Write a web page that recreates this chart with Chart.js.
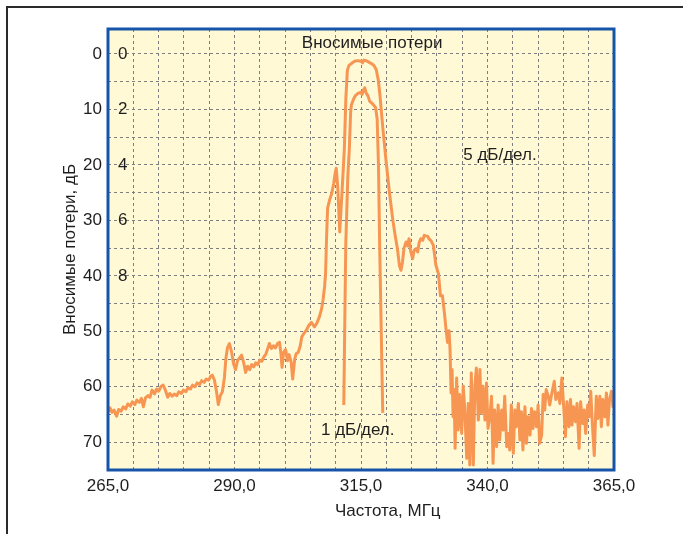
<!DOCTYPE html>
<html>
<head>
<meta charset="utf-8">
<script src="https://cdn.jsdelivr.net/npm/chart.js@4"></script>
<style>
  html, body { margin: 0; padding: 0; background: #fff; }
  #frame {
    position: absolute; left: 6px; top: 6px;
    width: 677px; height: 528px;
    border-top: 2px solid #2b2b2b; border-left: 2px solid #2b2b2b;
  }
  #c { display: block; }
</style>
</head>
<body>
<div id="frame"><canvas id="c" width="675" height="526"></canvas></div>
<script>
// 5 dB/div trace: frequency (MHz) and insertion loss (dB)
const wideFreq = [
  265.0, 265.4, 265.8, 266.2, 266.7, 267.1, 267.6, 268.0, 268.5, 268.9,
  269.4, 269.8, 270.3, 270.7, 271.2, 271.6, 272.0, 272.4, 272.9, 273.3,
  273.7, 274.2, 274.6, 275.0, 275.5, 275.9, 276.3, 276.8, 277.2, 277.7,
  278.1, 278.6, 279.0, 279.5, 279.9, 280.4, 280.8, 281.3, 281.7, 282.2,
  282.6, 283.1, 283.5, 284.0, 284.4, 284.9, 285.3, 285.6, 286.0, 286.4,
  286.8, 287.2, 287.6, 288.0, 288.3, 288.6, 289.0, 289.4, 289.8, 290.2,
  290.6, 291.0, 291.4, 291.8, 292.2, 292.6, 293.0, 293.4, 293.8, 294.2,
  294.6, 295.0, 295.4, 295.8, 296.2, 296.5, 296.9, 297.3, 297.7, 298.1,
  298.5, 298.9, 299.2, 299.4, 299.7, 300.1, 300.5, 300.8, 301.2, 301.5,
  301.9, 302.2, 302.6, 303.0, 303.3, 303.7, 304.2, 304.7, 305.2, 305.8,
  306.3, 306.8, 307.2, 307.5, 307.8, 308.0, 308.2, 308.4, 308.8, 309.2,
  309.6, 309.9, 310.1, 310.4, 310.8, 311.3, 311.7, 312.0, 312.3, 312.6,
  313.0, 313.5, 313.9, 314.4, 314.9, 315.1, 315.3, 315.6, 316.1, 316.7,
  317.2, 317.6, 318.0, 318.4, 318.7, 319.35, 320.0, 320.65, 321.3, 321.8,
  322.2, 322.6, 322.9, 323.2, 323.5, 323.9, 324.2, 324.5, 324.8, 325.2,
  325.5, 325.9, 326.2, 326.5, 326.8, 327.2, 327.5, 327.8, 328.2, 328.5,
  328.8, 329.3, 329.8, 330.3, 330.7, 331.1, 331.5, 331.8, 332.1, 332.4,
  332.6, 332.8, 333.0, 333.2, 333.4, 333.6, 333.9, 334.2, 334.5, 334.9,
  335.2, 335.5, 335.9, 336.2, 336.5, 336.8, 337.2, 337.5, 337.8, 338.2,
  338.5, 338.8, 339.1, 339.5, 339.8, 340.1, 340.5, 340.8, 341.1, 341.4,
  341.8, 342.1, 342.4, 342.8, 343.1, 343.4, 343.8, 344.1, 344.4, 344.7,
  345.1, 345.4, 345.7, 346.1, 346.4, 346.7, 347.0, 347.4, 347.7, 348.0,
  348.4, 348.7, 349.0, 349.3, 349.7, 350.0, 350.3, 350.7, 351.0, 351.3,
  351.6, 352.0, 352.3, 352.6, 353.2, 353.5, 354.0, 354.3, 354.7, 355.1,
  355.4, 355.7, 356.1, 356.4, 356.7, 357.0, 357.4, 357.7, 358.1, 358.4,
  358.8, 359.1, 359.4, 359.8, 360.1, 360.4, 360.7, 361.1, 361.5, 361.8,
  362.2, 362.5, 362.8, 363.2, 363.5, 363.8, 364.1, 364.5, 364.8, 365.0
];
const wideLoss = [
  64.5, 63.8, 64.6, 64.2, 65.3, 64.1, 64.4, 63.6, 64.0, 63.1,
  63.5, 62.7, 63.2, 62.4, 62.8, 62.1, 63.6, 62.0, 61.6, 61.9,
  60.6, 61.3, 60.4, 60.8, 59.9, 59.7, 60.5, 61.9, 61.2, 61.7,
  61.3, 61.6, 60.9, 61.2, 60.6, 60.9, 60.2, 60.4, 59.7, 60.0,
  59.3, 59.6, 58.9, 59.2, 58.6, 58.8, 58.1, 57.9, 58.7, 60.6,
  63.2, 61.6, 60.9, 58.4, 54.9, 53.0, 52.2, 53.6, 55.8, 56.9,
  55.3, 54.8, 54.3, 55.6, 57.4, 56.3, 56.9, 56.0, 56.4, 55.7,
  56.0, 55.2, 55.4, 54.6, 54.1, 53.3, 52.2, 53.1, 52.6, 53.0,
  52.2, 52.0, 54.2, 56.5, 53.8, 53.3, 55.3, 54.2, 55.6, 58.6,
  55.0, 54.0, 53.8, 52.6, 51.0, 50.4, 49.8, 48.9, 48.4, 49.2,
  48.5, 47.3, 46.0, 44.3, 42.0, 39.5, 33.0, 27.8, 26.3, 25.2,
  23.4, 21.5, 20.6, 23.9, 32.1, 24.0, 17.3, 8.2, 3.0, 2.1,
  1.8, 1.45, 1.25, 1.2, 1.3, 1.25, 1.6, 1.1, 1.25, 1.55,
  1.8, 2.15, 2.8, 4.6, 7.0, 13.7, 19.7, 25.2, 30.0, 33.0,
  35.1, 38.2, 39.0, 37.5, 35.0, 33.9, 34.6, 33.3, 35.5, 36.9,
  35.4, 35.1, 35.7, 34.0, 33.3, 33.6, 32.7, 32.8, 32.9, 33.4,
  33.6, 34.5, 38.1, 39.6, 43.6, 43.6, 46.8, 49.6, 52.0, 49.9,
  53.3, 61.1, 56.9, 65.4, 60.5, 71.1, 58.4, 67.8, 61.4, 68.4,
  59.9, 63.9, 72.9, 63.0, 74.1, 57.5, 74.1, 59.9, 56.6, 66.0,
  56.9, 64.8, 59.9, 66.0, 59.3, 67.5, 65.1, 61.7, 73.8, 64.2,
  70.8, 63.3, 69.6, 64.2, 67.8, 61.7, 70.8, 68.4, 71.4, 63.3,
  72.0, 64.2, 67.2, 63.0, 69.6, 64.5, 71.4, 63.6, 70.2, 65.4,
  68.7, 63.9, 67.5, 64.5, 67.2, 63.3, 70.2, 68.7, 61.4, 64.2,
  60.5, 61.7, 63.3, 61.7, 59.0, 62.3, 61.1, 63.0, 58.4, 64.2,
  69.0, 62.7, 67.2, 62.3, 66.9, 63.6, 66.3, 63.0, 71.1, 62.7,
  66.6, 64.2, 68.4, 63.3, 65.4, 60.8, 66.3, 72.4, 61.7, 65.7,
  61.7, 67.2, 62.3, 65.4, 61.1, 66.9, 62.3, 60.8, 63.6, 62.3
];

// 1 dB/div trace (right-hand scale 0..8)
const narrowFreq = [
  311.6, 311.8, 312.0, 312.4, 312.7, 312.95, 313.1, 313.5, 313.9, 314.4,
  315.0, 315.2, 315.5, 315.75, 316.0, 316.4, 316.7, 317.4, 317.9, 318.2,
  318.45, 318.7, 319.0, 319.3
];
const narrowLoss = [
  12.66, 9.6, 6.8, 4.4, 3.4, 2.1, 1.84, 1.64, 1.5, 1.42,
  1.38, 1.46, 1.3, 1.22, 1.4, 1.52, 1.7, 1.82, 1.94, 2.36,
  4.0, 7.0, 10.0, 12.94
];

const xTitle = 'Частота, МГц';
const yTitle = 'Вносимые потери, дБ';
const notes = [
  { text: 'Вносимые потери', x: 317.2, y: -1.9, align: 'center' },
  { text: '5 дБ/дел.', x: 335.2, y: 18.2, align: 'left' },
  { text: '1 дБ/дел.', x: 307.1, y: 67.8, align: 'left' }
];

const FONT = { family: '"Liberation Sans", Arial, sans-serif', size: 17 };
const TEXT = '#1e1e1e';
const LINE = 'rgb(247, 150, 82)';
const GRID = { color: '#7f7f7f', lineWidth: 1, drawTicks: false };

const plotDecor = {
  id: 'plotDecor',
  beforeDraw(chart) {
    const { ctx, chartArea: a } = chart;
    ctx.save();
    ctx.fillStyle = 'rgb(255, 249, 214)';
    ctx.fillRect(a.left, a.top, a.right - a.left, a.bottom - a.top);
    ctx.restore();
  },
  afterDatasetsDraw(chart) {
    const { ctx, chartArea: a } = chart;
    ctx.save();
    ctx.strokeStyle = 'rgb(22, 84, 170)';
    ctx.lineWidth = 3;
    ctx.strokeRect(a.left, a.top, a.right - a.left, a.bottom - a.top);
    ctx.restore();
  },
  afterDraw(chart) {
    const { ctx, scales, chartArea: a } = chart;
    ctx.save();
    ctx.fillStyle = TEXT;
    ctx.font = FONT.size + 'px ' + FONT.family;
    ctx.textBaseline = 'middle';
    notes.forEach(n => {
      ctx.textAlign = n.align;
      ctx.fillText(n.text, scales.x.getPixelForValue(n.x), scales.y.getPixelForValue(n.y));
    });
    ctx.textAlign = 'center';
    ctx.fillText(xTitle, scales.x.getPixelForValue(320.3), a.bottom + 41);
    ctx.restore();
  }
};

new Chart(document.getElementById('c'), {
  type: 'line',
  data: {
    datasets: [{
      label: '5 дБ/дел.',
      data: wideFreq.map((f, i) => ({ x: f, y: wideLoss[i] })),
      yAxisID: 'y',
      borderColor: LINE,
      borderWidth: 3,
      pointRadius: 0,
      borderJoinStyle: 'round'
    }, {
      label: '1 дБ/дел.',
      data: narrowFreq.map((f, i) => ({ x: f, y: narrowLoss[i] })),
      yAxisID: 'y2',
      borderColor: LINE,
      borderWidth: 3,
      pointRadius: 0,
      borderJoinStyle: 'round'
    }]
  },
  options: {
    responsive: false,
    animation: false,
    layout: { padding: { left: 0, top: 21, right: 69, bottom: 0 } },
    plugins: { legend: { display: false }, tooltip: { enabled: false } },
    scales: {
      x: {
        type: 'linear',
        min: 265, max: 365,
        grid: { ...GRID },
        border: { display: false, dash: [3, 3] },
        ticks: {
          stepSize: 5, autoSkip: false, maxRotation: 0, padding: 6,
          color: TEXT, font: FONT,
          callback: v => ((v - 265) % 25 === 0 ? v.toFixed(1).replace('.', ',') : '')
        },
        afterFit: s => { s.height = 64; }
      },
      y: {
        type: 'linear',
        position: 'left',
        weight: 1,
        reverse: true,
        min: -4.5, max: 75,
        grid: { ...GRID },
        border: { display: false, dash: [3, 3] },
        ticks: {
          stepSize: 5, autoSkip: false, padding: 6,
          color: TEXT, font: FONT,
          callback: v => (v >= 0 && v <= 70 && v % 10 === 0 ? String(v) : '')
        },
        title: { display: true, text: yTitle, color: TEXT, font: FONT, padding: { top: 52, bottom: 0 } },
        afterFit: s => { s.width = 100; }
      },
      y2: {
        type: 'linear',
        position: 'left',
        weight: 0,
        reverse: true,
        min: -0.9, max: 15,
        grid: { display: false, drawTicks: false },
        border: { display: false },
        ticks: {
          stepSize: 2, autoSkip: false, mirror: true, padding: 10,
          color: TEXT, font: FONT,
          callback: v => (v >= 0 && v <= 8 && v % 2 === 0 ? String(v) : '')
        },
        afterFit: s => { s.width = 0; }
      }
    }
  },
  plugins: [plotDecor]
});
</script>
</body>
</html>
